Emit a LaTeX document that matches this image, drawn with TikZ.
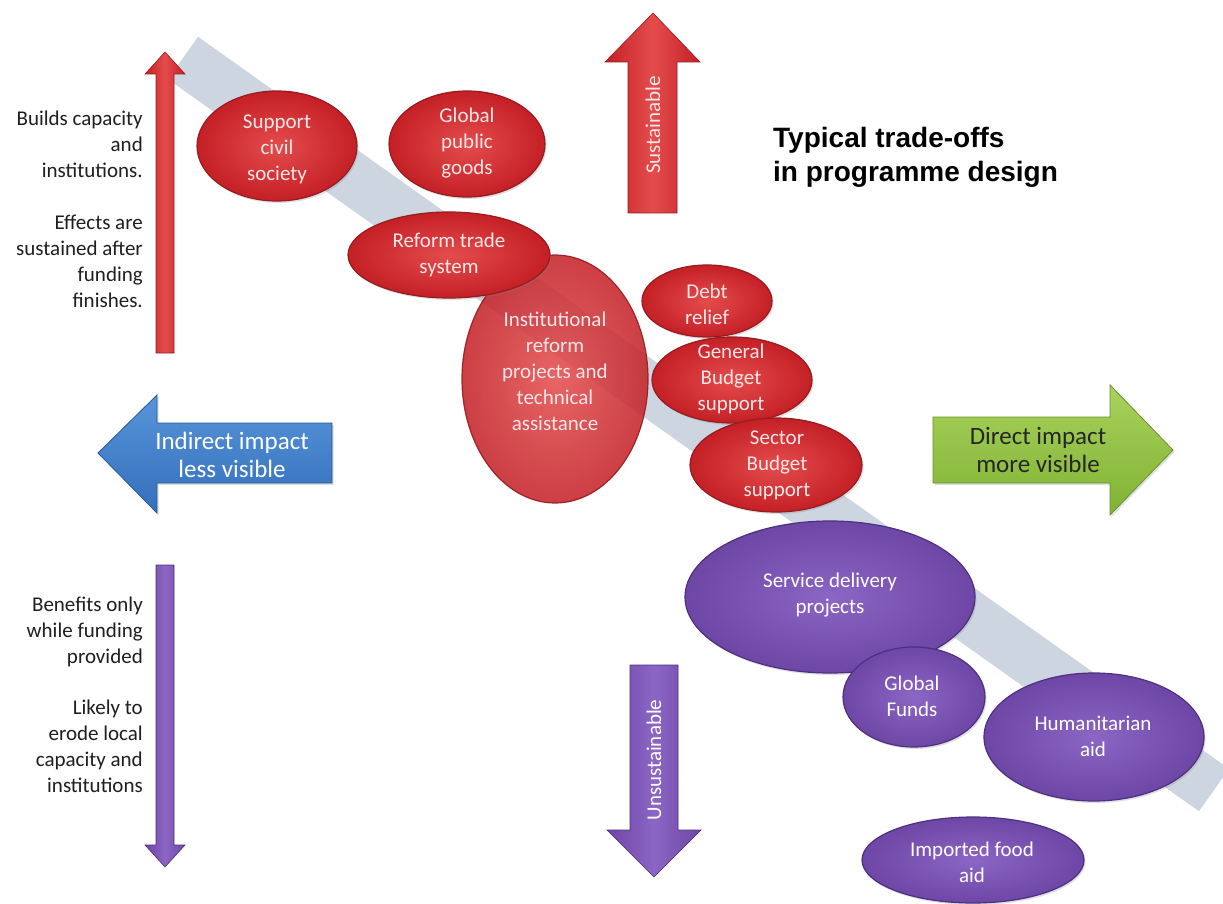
\documentclass[tikz,border=0pt]{standalone}
\usepackage{fontspec}
\setmainfont{Carlito}
\newfontfamily\titlefont{Liberation Sans}
\usetikzlibrary{shapes.geometric,shadows}
\definecolor{bandc}{RGB}{205,213,225}
\definecolor{redA}{RGB}{228,76,76}
\definecolor{redB}{RGB}{196,32,38}
\definecolor{redE}{RGB}{150,28,32}
\definecolor{purA}{RGB}{140,102,196}
\definecolor{purB}{RGB}{110,70,166}
\definecolor{purE}{RGB}{78,48,128}
\definecolor{blueT}{RGB}{88,148,216}
\definecolor{blueB}{RGB}{52,112,188}
\definecolor{blueE}{RGB}{40,88,150}
\definecolor{greenT}{RGB}{168,210,92}
\definecolor{greenB}{RGB}{128,178,52}
\definecolor{greenE}{RGB}{105,145,45}
\definecolor{redtxt}{RGB}{252,230,230}
\begin{document}
\begin{tikzpicture}[x=1pt,y=-1pt,
  every node/.style={font=\fontsize{21}{26}\selectfont},
  blob/.style={ellipse, inner sep=0pt, outer sep=0pt, line width=1.2pt},
  redblob/.style={blob, shade, inner color=redA, outer color=redB, draw=redE,
     drop shadow={opacity=0.25, shadow xshift=1.5pt, shadow yshift=-2pt}},
  purblob/.style={blob, shade, inner color=purA, outer color=purB, draw=purE,
     drop shadow={opacity=0.25, shadow xshift=1.5pt, shadow yshift=-2pt}},
  redtext/.style={align=center, text=redtxt, inner sep=0pt},
  purtext/.style={align=center, text=white, inner sep=0pt},
  sidetext/.style={align=right, anchor=east, inner sep=0pt, text=black!88},
  bigtext/.style={align=center, inner sep=0pt, font=\fontsize{25}{28}\selectfont},
  redarrow/.style={left color=redB, right color=redB, middle color=redA, draw=redE, line width=0.6pt},
  purarrow/.style={left color=purB, right color=purB, middle color=purA, draw=purE, line width=0.6pt},
]
\useasboundingbox (0,0) rectangle (1223,904);
\fill[white] (0,0) rectangle (1223,904);

% diagonal band
\draw[bandc, line width=52pt] (183,58) -- (1214,790);

% left vertical arrows
\path[redarrow] (165,52) -- (185,74) -- (174,74) -- (174,353) -- (156,353) -- (156,74) -- (145,74) -- cycle;
\path[purarrow] (165,867) -- (185,845) -- (174,845) -- (174,565) -- (156,565) -- (156,845) -- (145,845) -- cycle;

% side texts
\node[sidetext] (t1) at (143,144) {Builds capacity\\and\\institutions.};
\node[sidetext] (t2) at (143,261) {Effects are\\sustained after\\funding\\finishes.};
\node[sidetext] (t3) at (143,632) {Benefits only\\while funding\\provided};
\node[sidetext] (t4) at (143,746) {Likely to\\erode local\\capacity and\\institutions};

% sustainable / unsustainable arrows
\path[redarrow] (653,13) -- (700,62) -- (677,62) -- (677,213) -- (628,213) -- (628,62) -- (605,62) -- cycle;
\node[text=redtxt, rotate=90, inner sep=0pt] (sus) at (653,125) {Sustainable};
\path[purarrow] (654,877) -- (701,830) -- (678,830) -- (678,665) -- (630,665) -- (630,830) -- (607,830) -- cycle;
\node[text=white, rotate=90, inner sep=0pt] (unsus) at (654,760) {Unsustainable};

% title
\node[anchor=west, align=left, inner sep=0pt, font=\titlefont\bfseries\fontsize{28}{34}\selectfont] (title) at (773,157) {Typical trade-offs\\in programme design};

% horizontal block arrows
\path[top color=blueT, bottom color=blueB, draw=blueE, line width=0.8pt,
      drop shadow={opacity=0.25, shadow xshift=1.5pt, shadow yshift=-2pt}]
  (98,453) -- (157,395) -- (157,423) -- (332,423) -- (332,483) -- (157,483) -- (157,513) -- cycle;
\node[bigtext, text=white] (ind) at (232,455) {Indirect impact\\less visible};
\path[top color=greenT, bottom color=greenB, draw=greenE, line width=0.8pt,
      drop shadow={opacity=0.25, shadow xshift=1.5pt, shadow yshift=-2pt}]
  (1173,450) -- (1110,385) -- (1110,417) -- (933,417) -- (933,483) -- (1110,483) -- (1110,515) -- cycle;
\node[bigtext, text=black!85] (dir) at (1038,450) {Direct impact\\more visible};

% red ellipses
\node[blob, shade, inner color=redA, outer color=redB, draw=redE, fill opacity=0.86, draw opacity=0.9,
      minimum width=186pt, minimum height=248pt] (inst) at (555,379) {};
\node[redtext] (instT) at (555,371) {Institutional\\reform\\projects and\\technical\\assistance};
\node[redblob, minimum width=202pt, minimum height=86pt] (trade) at (449,255) {};
\node[redtext] (tradeT) at (449,255) {Reform trade\\system};
\node[redblob, minimum width=160pt, minimum height=110pt] (civil) at (277,146) {};
\node[redtext] (civilT) at (277,149) {Support\\civil\\society};
\node[redblob, minimum width=156pt, minimum height=106pt] (gpg) at (467,144) {};
\node[redtext] (gpgT) at (467,143) {Global\\public\\goods};
\node[redblob, minimum width=130pt, minimum height=72pt] (debt) at (707,301) {};
\node[redtext] (debtT) at (707,304) {Debt\\relief};
\node[redblob, minimum width=160pt, minimum height=86pt] (gbs) at (732,380) {};
\node[redtext] (gbsT) at (731,379) {General\\Budget\\support};
\node[redblob, minimum width=172pt, minimum height=94pt] (sbs) at (776,465) {};
\node[redtext] (sbsT) at (777,465) {Sector\\Budget\\support};

% purple ellipses
\node[purblob, minimum width=290pt, minimum height=152pt] (sdp) at (830,597) {};
\node[purtext] (sdpT) at (830,595) {Service delivery\\projects};
\node[purblob, minimum width=142pt, minimum height=100pt] (gf) at (914,697) {};
\node[purtext] (gfT) at (912,696) {Global\\Funds};
\node[purblob, minimum width=220pt, minimum height=128pt] (hum) at (1094,737) {};
\node[purtext] (humT) at (1093,736) {Humanitarian\\aid};
\node[purblob, minimum width=222pt, minimum height=86pt] (food) at (973,860) {};
\node[purtext] (foodT) at (972,862) {Imported food\\aid};
\end{tikzpicture}
\end{document}
